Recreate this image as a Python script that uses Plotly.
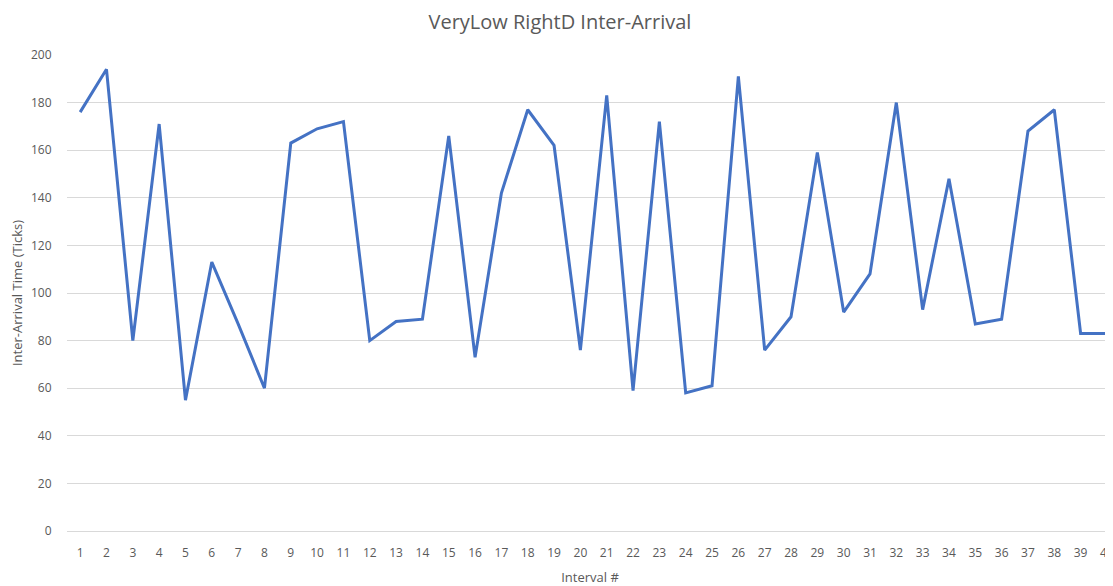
import plotly.graph_objects as go

intervals = list(range(1, 41))
inter_arrival = [176, 194, 80, 171, 55, 113, 87, 60, 163, 169,
                 172, 80, 88, 89, 166, 73, 142, 177, 162, 76,
                 183, 59, 172, 58, 61, 191, 76, 90, 159, 92,
                 108, 180, 93, 148, 87, 89, 168, 177, 83, 83]
y_ticks = [0, 20, 40, 60, 80, 100, 120, 140, 160, 180, 200]

TXT = "#595959"
FONT = "Open Sans, Liberation Sans, sans-serif"

fig = go.Figure()
fig.add_trace(go.Scatter(
    x=intervals, y=inter_arrival, mode="lines",
    line=dict(color="#4472C4", width=3),
    showlegend=False,
))

# page body has an 8px default margin; figure sized to end at the window edge
fig.update_layout(
    width=1105, height=578,
    margin=dict(l=59, r=0, t=47, b=55),
    paper_bgcolor="white", plot_bgcolor="white",
    font=dict(family=FONT, color=TXT, size=12),
    title=dict(text="VeryLow RightD Inter-Arrival", x=0.4995, xanchor="center",
               y=0.9758, yanchor="middle", yref="container",
               font=dict(size=20, color=TXT, family=FONT)),
    xaxis=dict(
        range=[0.5, 40.23], tickvals=intervals, ticktext=[str(i) for i in intervals],
        showgrid=False, zeroline=False, showline=False,
        ticks="outside", ticklen=11, tickcolor="rgba(0,0,0,0)",
        tickfont=dict(size=12, color=TXT),
        ticklabeloverflow="allow",
        title=dict(text="Interval #", font=dict(size=13, color=TXT), standoff=12),
        automargin=False,
    ),
    yaxis=dict(
        range=[0, 200], tickvals=y_ticks,
        showgrid=True, gridcolor="#D9D9D9", gridwidth=1,
        zeroline=True, zerolinecolor="#D9D9D9", zerolinewidth=1,
        showline=False,
        ticks="outside", ticklen=12, tickcolor="rgba(0,0,0,0)",
        tickfont=dict(size=12, color=TXT),
        title=dict(text="Inter-Arrival Time (Ticks)", font=dict(size=13, color=TXT), standoff=7),
        automargin=False,
    ),
)

fig.write_html("out.html")
